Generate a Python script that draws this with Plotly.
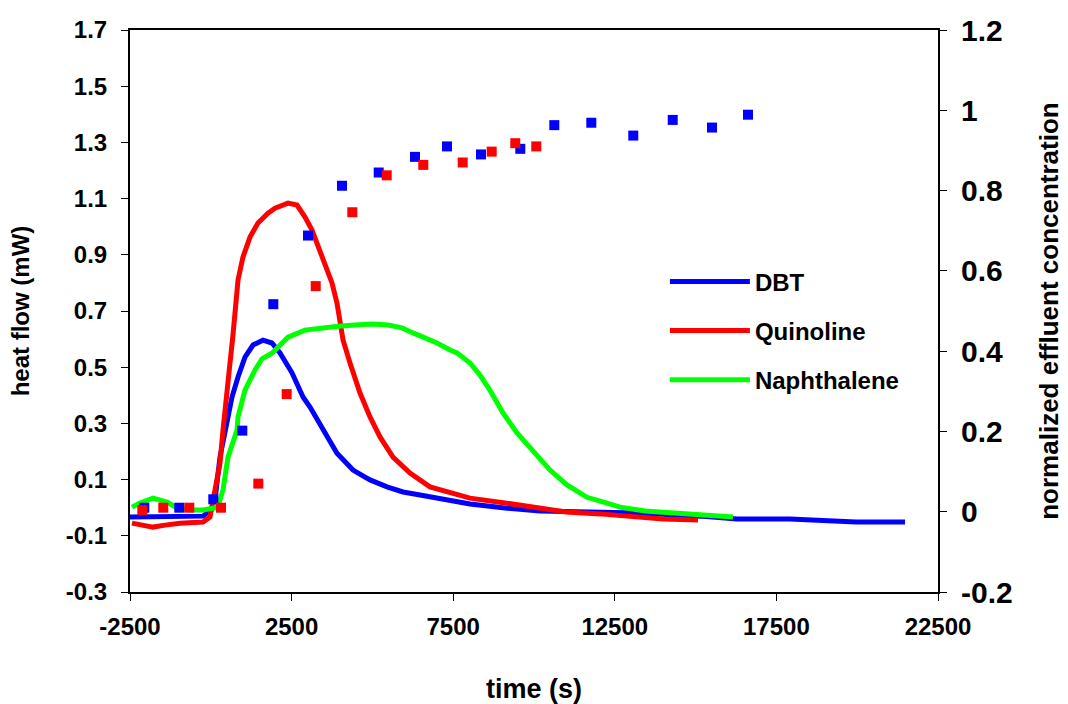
import plotly.graph_objects as go

# ---- heat flow curves (left axis, mW) ----
dbt_t = [-2500, -1881, -953, -241, 6, 130, 285, 501, 656, 842, 1058, 1306, 1615, 1893, 2141,
         2512, 2667, 2853, 3069, 3471, 3904, 4400, 4926, 5452, 5947, 6473, 7000, 7494, 8020,
         9103, 10185, 11701, 13218, 15136, 16281, 17920, 19962, 21479]
dbt_hf = [-0.033, -0.033, -0.033, -0.030, -0.008, 0.027, 0.180, 0.302, 0.394, 0.465, 0.536, 0.579,
          0.596, 0.586, 0.551, 0.480, 0.444, 0.394, 0.358, 0.276, 0.194, 0.134, 0.099, 0.074, 0.056,
          0.045, 0.034, 0.020, 0.013, -0.001, -0.012, -0.015, -0.019, -0.030, -0.040, -0.040,
          -0.051, -0.051]

quin_t = [-2438, -2036, -1788, -1417, -953, -241, -25, 130, 285, 377, 501, 594, 687, 780, 842, 996,
          1213, 1460, 1770, 1986, 2389, 2667, 2915, 3131, 3317, 3534, 3750, 3905, 3998, 4091, 4307,
          4617, 4926, 5235, 5637, 6163, 6782, 7401, 8020, 9103, 10185, 10990, 12042, 12815, 13991,
          15074]
quin_hf = [-0.055, -0.062, -0.069, -0.062, -0.055, -0.051, -0.033, 0.063, 0.159, 0.276, 0.394, 0.515,
           0.615, 0.714, 0.810, 0.892, 0.963, 1.013, 1.048, 1.066, 1.084, 1.077, 1.034, 0.988, 0.928,
           0.871, 0.800, 0.728, 0.657, 0.597, 0.515, 0.408, 0.323, 0.252, 0.180, 0.123, 0.074, 0.052,
           0.034, 0.017, -0.001, -0.015, -0.022, -0.030, -0.040, -0.044]

naph_t = [-2438, -2191, -1788, -1572, -1355, -1046, -644, -241, 130, 254, 377, 532, 811, 842, 1058,
          1368, 1584, 1893, 2389, 2915, 3379, 3936, 4462, 4988, 5483, 5916, 6256, 6628, 6999, 7401,
          7618, 8020, 8329, 8638, 9041, 9474, 9969, 10495, 11021, 11640, 12259, 12661, 13434, 15074,
          16157]
naph_hf = [0.002, 0.017, 0.034, 0.027, 0.020, -0.001, -0.008, -0.008, -0.001, 0.017, 0.063, 0.180,
           0.276, 0.323, 0.418, 0.490, 0.530, 0.550, 0.607, 0.632, 0.639, 0.646, 0.650, 0.654, 0.650,
           0.640, 0.622, 0.604, 0.586, 0.561, 0.551, 0.515, 0.472, 0.418, 0.337, 0.266, 0.205, 0.134,
           0.081, 0.037, 0.016, 0.002, -0.012, -0.026, -0.033]

# ---- normalized effluent concentration (right axis) ----
dbt_eff_t = [-2058, -975, 77, 975, 1934, 3007, 4059, 5195, 6318, 7308, 8360, 9576, 10628, 11773,
             13072, 14292, 15507, 16621]
dbt_eff_c = [0.010, 0.010, 0.031, 0.202, 0.517, 0.688, 0.812, 0.845, 0.884, 0.910, 0.890, 0.904,
             0.963, 0.969, 0.937, 0.976, 0.957, 0.989]

quin_eff_t = [-2119, -1470, -665, 316, 1470, 2348, 3246, 4378, 5443, 6575, 7794, 8691, 9421, 10071]
quin_eff_c = [0.004, 0.010, 0.010, 0.010, 0.070, 0.293, 0.562, 0.746, 0.838, 0.864, 0.870, 0.897,
              0.918, 0.910]

# ---- tick labels ----
x_ticks = [-2500, 2500, 7500, 12500, 17500, 22500]
x_labels = ["-2500", "2500", "7500", "12500", "17500", "22500"]
y_ticks = [-0.3, -0.1, 0.1, 0.3, 0.5, 0.7, 0.9, 1.1, 1.3, 1.5, 1.7]
y_labels = ["-0.3", "-0.1", "0.1", "0.3", "0.5", "0.7", "0.9", "1.1", "1.3", "1.5", "1.7"]
y2_ticks = [-0.2, 0, 0.2, 0.4, 0.6, 0.8, 1.0, 1.2]
y2_labels = ["-0.2", "0", "0.2", "0.4", "0.6", "0.8", "1", "1.2"]

BLUE, RED, GREEN = "#0000FF", "#FF0000", "#00FF00"
FONT = "Liberation Sans"

fig = go.Figure()
fig.add_trace(go.Scatter(x=dbt_t, y=dbt_hf, mode="lines", name="DBT",
                         line=dict(color=BLUE, width=5), legendgroup="a"))
fig.add_trace(go.Scatter(x=quin_t, y=quin_hf, mode="lines", name="Quinoline",
                         line=dict(color=RED, width=5), legendgroup="b"))
fig.add_trace(go.Scatter(x=naph_t, y=naph_hf, mode="lines", name="Naphthalene",
                         line=dict(color=GREEN, width=5), legendgroup="c"))
fig.add_trace(go.Scatter(x=dbt_eff_t, y=dbt_eff_c, mode="markers", yaxis="y2", showlegend=False,
                         marker=dict(symbol="square", size=10, color=BLUE)))
fig.add_trace(go.Scatter(x=quin_eff_t, y=quin_eff_c, mode="markers", yaxis="y2", showlegend=False,
                         marker=dict(symbol="square", size=10, color=RED)))

axis_common = dict(showgrid=False, zeroline=False, showline=True, linecolor="black",
                   linewidth=2, ticks="outside", ticklen=7, tickcolor="black", tickwidth=1,
                   automargin=False)

fig.update_layout(
    width=1068, height=704,
    margin=dict(l=130, r=130, t=30, b=112),
    paper_bgcolor="white", plot_bgcolor="white",
    font=dict(family=FONT, color="black", size=20, weight="bold"),
    xaxis=dict(range=[-2500, 22500], tickvals=x_ticks, ticktext=x_labels, mirror=True,
               tickfont=dict(size=24, weight="bold"), ticklabelstandoff=5,
               title=dict(text="time (s)", font=dict(size=27, weight="bold"), standoff=40),
               **axis_common),
    yaxis=dict(range=[-0.3, 1.7], tickvals=y_ticks, ticktext=y_labels,
               tickfont=dict(size=24, weight="bold"), ticklabelstandoff=9,
               title=dict(text="heat flow (mW)", font=dict(size=24, weight="bold"), standoff=29),
               **axis_common),
    yaxis2=dict(range=[-0.2, 1.2], tickvals=y2_ticks, ticktext=y2_labels, overlaying="y",
                side="right", tickfont=dict(size=30, weight="bold"), ticklabelstandoff=8,
                title=dict(text="normalized effluent concentration",
                           font=dict(size=26, weight="bold"), standoff=28),
                **axis_common),
    legend=dict(x=0.662, y=0.592, xanchor="left", yanchor="top", bgcolor="rgba(0,0,0,0)",
                font=dict(size=24, weight="bold"), tracegroupgap=15, itemwidth=80),
    showlegend=True,
)

fig.write_html("out.html")
